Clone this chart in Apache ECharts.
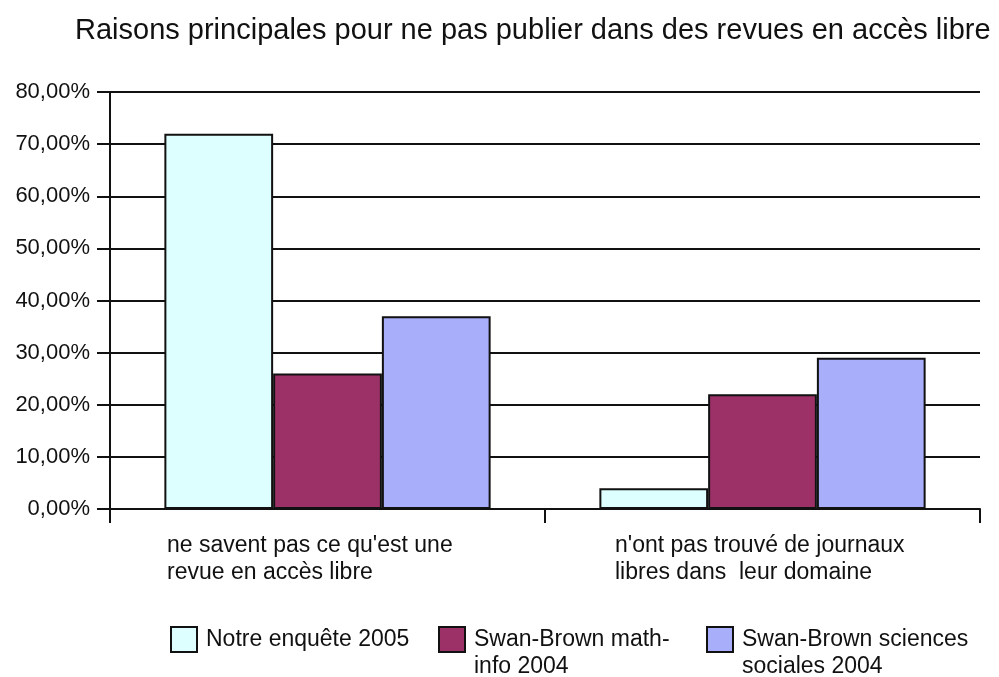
<!DOCTYPE html>
<html>
<head>
<meta charset="utf-8">
<script src="https://cdn.jsdelivr.net/npm/echarts@6/dist/echarts.min.js"></script>
<style>
  html, body { margin: 0; padding: 0; background: #fff; }
  #chart { width: 999px; height: 677px; }
</style>
</head>
<body>
<div id="chart"></div>
<script>
// Survey results, in percent
const categories = [
  "ne savent pas ce qu'est une\nrevue en accès libre",
  "n'ont pas trouvé de journaux\nlibres dans  leur domaine"
];
const seriesNames = [
  "Notre enquête 2005",
  "Swan-Brown math-\ninfo 2004",
  "Swan-Brown sciences\nsociales 2004"
];
const notreEnquete2005 = [72, 4];
const swanBrownMathInfo2004 = [26, 22];
const swanBrownSciencesSociales2004 = [37, 29];
const yTicks = { min: 0, max: 80, step: 10 };

const colors = ['#DDFFFF', '#9C3168', '#A8AEFA'];
const FONT = '"Liberation Sans", Arial, sans-serif';
const INK = '#111';

const chart = echarts.init(document.getElementById('chart'), null, { renderer: 'canvas' });

const valueSets = [notreEnquete2005, swanBrownMathInfo2004, swanBrownSciencesSociales2004];

// One legend block per series so each swatch sits at its own column
const legendLeft = [170, 438, 706];
const LEGEND_LH = 27;
const legends = seriesNames.map((n, i) => {
  const multi = n.indexOf('\n') >= 0;
  return {
    left: legendLeft[i],
    // swatch top lands on y = 627
    top: multi ? 627 - (LEGEND_LH * 1.5 - 12.5) : 627 - (LEGEND_LH / 2 - 12.5),
    padding: 0,
    itemWidth: 26,
    itemHeight: 25,
    icon: 'rect',
    selectedMode: false,
    // leading blank line keeps the first text line level with the swatch
    formatter: name => (name.indexOf('\n') >= 0 ? '\n' + name : name),
    textStyle: { fontFamily: FONT, fontSize: 23, color: INK, lineHeight: LEGEND_LH, padding: [0, 0, 0, 4] },
    data: [{ name: n, itemStyle: { color: colors[i], borderColor: INK, borderWidth: 2 } }]
  };
});

chart.setOption({
  animation: false,
  backgroundColor: '#ffffff',
  title: {
    text: 'Raisons principales pour ne pas publier dans des revues en accès libre',
    left: 70,
    top: 11,
    textStyle: { fontFamily: FONT, fontSize: 29, fontWeight: 'normal', color: INK }
  },
  grid: { left: 110, right: 19, top: 92, bottom: 168, containLabel: false },
  legend: legends,
  xAxis: {
    type: 'category',
    data: categories,
    axisLine: { lineStyle: { color: INK, width: 2 } },
    axisTick: { show: true, length: 14, lineStyle: { color: INK, width: 2 } },
    axisLabel: {
      margin: 23,
      interval: 0,
      formatter: (v, i) => '{c' + i + '|' + v + '}',
      rich: {
        c0: { width: 321, align: 'left', fontFamily: FONT, fontSize: 23, lineHeight: 27, color: INK },
        c1: { width: 295, align: 'left', fontFamily: FONT, fontSize: 23, lineHeight: 27, color: INK }
      }
    }
  },
  yAxis: {
    type: 'value',
    min: yTicks.min,
    max: yTicks.max,
    interval: yTicks.step,
    axisLine: { show: true, lineStyle: { color: INK, width: 2 } },
    axisTick: { show: true, length: 13, lineStyle: { color: INK, width: 2 } },
    splitLine: { show: true, lineStyle: { color: INK, width: 2 } },
    axisLabel: {
      margin: 20,
      fontFamily: FONT,
      fontSize: 22,
      color: INK,
      formatter: v => v.toFixed(2).replace('.', ',') + '%'
    }
  },
  series: seriesNames.map((n, i) => ({
    name: n,
    type: 'bar',
    data: valueSets[i],
    barGap: '0%',
    barCategoryGap: '25%',
    itemStyle: { color: colors[i], borderColor: INK, borderWidth: 2 }
  }))
});
</script>
</body>
</html>
